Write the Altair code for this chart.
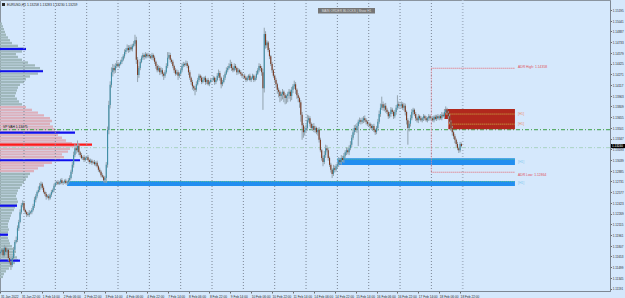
import json
import altair as alt
import pandas as pd

# ---------------- price axis / layout values ----------------
Y_MIN, Y_MAX = 1.11157, 1.15339
K_MIN, K_MAX = -18.38, 448.8          # bar index range visible (1 Feb 00:00 = 0)

price_ticks = [1.15195, 1.15041, 1.14887, 1.14733, 1.14579, 1.14425, 1.14271, 1.14117,
               1.13963, 1.13809, 1.13655, 1.13501, 1.13347, 1.13193, 1.13039, 1.12885,
               1.12731, 1.12577, 1.12423, 1.12269, 1.12115, 1.11961, 1.11807, 1.11653,
               1.11499, 1.11345, 1.11191]

xlab_k = [-18, -2, 14, 30, 46, 62, 78, 94, 110, 126, 142, 158, 174, 190, 206, 222, 238,
          254, 270, 286, 302, 318, 334]
xlab_text = ["31 Jan 2022", "31 Jan 22:00", "1 Feb 14:00", "2 Feb 06:00", "2 Feb 22:00",
             "3 Feb 14:00", "4 Feb 06:00", "4 Feb 22:00", "7 Feb 14:00", "8 Feb 06:00",
             "8 Feb 22:00", "9 Feb 14:00", "10 Feb 06:00", "10 Feb 22:00", "11 Feb 14:00",
             "14 Feb 06:00", "14 Feb 22:00", "15 Feb 14:00", "16 Feb 06:00", "16 Feb 22:00",
             "17 Feb 14:00", "18 Feb 06:00", "18 Feb 22:00"]

day_sep_k = [0, 24, 48, 72, 96, 120, 144, 168, 192, 216, 240, 264, 288, 312]
last_sep_k = [336]

# ---------------- hourly closes (EURUSD H1) ----------------
first_k = -18
first_open = 1.1170
c_jan31 = [1.1172, 1.1175, 1.1167, 1.1178, 1.1172, 1.1175, 1.1163, 1.1157, 1.1153, 1.1163, 1.1175, 1.1186, 1.1189, 1.1206, 1.1215, 1.1229, 1.1239, 1.1242]
c_feb01 = [1.1232, 1.1229, 1.1226, 1.1225, 1.1228, 1.1229, 1.1232, 1.1238, 1.1247, 1.1252, 1.1258, 1.1261, 1.1267, 1.1270, 1.1264, 1.1258, 1.1255, 1.1251, 1.1252, 1.1249, 1.1254, 1.1258, 1.1261, 1.1267]
c_feb02 = [1.1271, 1.1272, 1.1270, 1.1272, 1.1275, 1.1271, 1.1272, 1.1274, 1.1271, 1.1272, 1.1275, 1.1278, 1.1287, 1.1297, 1.1311, 1.1321, 1.1318, 1.1324, 1.1315, 1.1311, 1.1307, 1.1308, 1.1304, 1.1307]
c_feb03 = [1.1308, 1.1304, 1.1301, 1.1303, 1.1300, 1.1301, 1.1298, 1.1300, 1.1295, 1.1290, 1.1287, 1.1282, 1.1280, 1.1275, 1.1278, 1.1297, 1.1347, 1.1383, 1.1412, 1.1430, 1.1436, 1.1433, 1.1439, 1.1442]
c_feb04 = [1.1439, 1.1442, 1.1445, 1.1448, 1.1453, 1.1459, 1.1462, 1.1465, 1.1462, 1.1466, 1.1463, 1.1468, 1.1471, 1.1476, 1.1448, 1.1426, 1.1436, 1.1445, 1.1451, 1.1455, 1.1452, 1.1456, 1.1453, 1.1455]
c_feb07 = [1.1453, 1.1451, 1.1455, 1.1451, 1.1445, 1.1439, 1.1433, 1.1436, 1.1430, 1.1433, 1.1428, 1.1425, 1.1430, 1.1439, 1.1451, 1.1455, 1.1448, 1.1445, 1.1439, 1.1433, 1.1428, 1.1430, 1.1425, 1.1428]
c_feb08 = [1.1433, 1.1439, 1.1442, 1.1441, 1.1443, 1.1439, 1.1430, 1.1422, 1.1416, 1.1410, 1.1407, 1.1405, 1.1413, 1.1419, 1.1425, 1.1422, 1.1416, 1.1419, 1.1422, 1.1416, 1.1419, 1.1413, 1.1416, 1.1419]
c_feb09 = [1.1419, 1.1422, 1.1416, 1.1419, 1.1425, 1.1429, 1.1422, 1.1413, 1.1416, 1.1422, 1.1428, 1.1433, 1.1436, 1.1439, 1.1442, 1.1436, 1.1433, 1.1439, 1.1436, 1.1430, 1.1433, 1.1430, 1.1428, 1.1425]
c_feb10 = [1.1425, 1.1422, 1.1419, 1.1422, 1.1425, 1.1419, 1.1422, 1.1425, 1.1419, 1.1422, 1.1428, 1.1433, 1.1439, 1.1436, 1.1430, 1.1407, 1.1485, 1.1469, 1.1473, 1.1462, 1.1453, 1.1442, 1.1433, 1.1425]
c_feb11 = [1.1419, 1.1413, 1.1405, 1.1402, 1.1396, 1.1399, 1.1402, 1.1397, 1.1393, 1.1396, 1.1399, 1.1402, 1.1396, 1.1405, 1.1410, 1.1413, 1.1405, 1.1397, 1.1393, 1.1387, 1.1369, 1.1354, 1.1344, 1.1347]
c_feb14 = [1.1350, 1.1361, 1.1364, 1.1356, 1.1350, 1.1353, 1.1347, 1.1350, 1.1344, 1.1347, 1.1333, 1.1318, 1.1307, 1.1301, 1.1311, 1.1321, 1.1318, 1.1307, 1.1297, 1.1290, 1.1284, 1.1292, 1.1290, 1.1295]
c_feb15 = [1.1298, 1.1304, 1.1301, 1.1307, 1.1304, 1.1310, 1.1315, 1.1318, 1.1315, 1.1321, 1.1326, 1.1336, 1.1344, 1.1350, 1.1347, 1.1353, 1.1359, 1.1361, 1.1359, 1.1361, 1.1364, 1.1361, 1.1359, 1.1356]
c_feb16 = [1.1356, 1.1353, 1.1350, 1.1353, 1.1347, 1.1344, 1.1350, 1.1359, 1.1370, 1.1379, 1.1384, 1.1379, 1.1382, 1.1376, 1.1373, 1.1367, 1.1370, 1.1376, 1.1373, 1.1367, 1.1373, 1.1379, 1.1384, 1.1382]
c_feb17 = [1.1382, 1.1384, 1.1379, 1.1382, 1.1373, 1.1361, 1.1350, 1.1356, 1.1364, 1.1373, 1.1376, 1.1370, 1.1364, 1.1361, 1.1367, 1.1364, 1.1361, 1.1364, 1.1367, 1.1364, 1.1361, 1.1364, 1.1367, 1.1364]
c_feb18 = [1.1364, 1.1361, 1.1366, 1.1363, 1.1367, 1.1364, 1.1367, 1.1364, 1.1369, 1.1367, 1.1373, 1.1376, 1.1372, 1.1367, 1.1359, 1.1350, 1.1344, 1.1338, 1.1333, 1.1327, 1.1321, 1.1318, 1.1327, 1.1324]

# upper / lower wick length beyond the body, in pips
wu_jan31 = [3,2,3,4,2,3,2,3,2,3,4,3,5,4,3,4,3,4]
wd_jan31 = [3,4,3,2,4,3,4,3,7,3,2,3,2,3,4,2,3,3]
wu_feb01 = [3,2,2,3,4,2,3,3,4,3,2,5,4,3,2,3,2,3,2,3,2,3,2,3]
wd_feb01 = [2,3,4,2,3,2,3,2,3,4,3,2,3,4,3,2,3,4,2,3,2,3,2,3]
wu_feb02 = [2,2,3,2,2,3,2,2,3,2,3,4,3,4,5,6,4,8,3,2,3,2,3,2]
wd_feb02 = [2,3,2,2,3,2,3,2,2,3,2,3,2,3,4,3,5,3,4,3,2,3,3,2]
wu_feb03 = [2,3,2,3,2,2,3,2,3,2,3,2,3,2,3,4,5,6,5,7,6,5,4,5]
wd_feb03 = [3,2,3,2,3,2,2,3,2,3,2,3,2,3,4,7,4,6,5,4,6,5,4,3]
wu_feb04 = [3,2,3,4,3,4,3,5,4,3,4,3,4,8,5,4,3,4,3,3,2,3,2,3]
wd_feb04 = [2,3,2,3,2,3,3,2,4,3,2,3,2,3,6,10,4,3,2,3,4,2,3,2]
wu_feb07 = [2,3,3,2,3,2,3,4,3,4,3,2,3,4,8,4,3,2,3,2,3,4,3,2]
wd_feb07 = [3,2,3,4,3,4,3,2,4,3,4,6,3,2,3,2,4,3,3,4,3,2,6,3]
wu_feb08 = [3,4,3,2,4,3,2,3,2,3,2,3,4,3,3,2,3,4,2,3,2,3,2,3]
wd_feb08 = [2,3,2,3,2,3,4,3,4,5,4,8,3,2,3,4,3,2,3,4,3,2,3,2]
wu_feb09 = [2,3,2,3,4,5,3,2,3,4,3,4,3,4,6,3,2,4,3,2,3,2,3,2]
wd_feb09 = [3,2,4,3,2,3,4,6,3,2,3,2,3,2,3,4,3,2,3,4,3,2,3,3]
wu_feb10 = [2,3,2,3,2,3,2,3,2,3,4,3,4,3,3,5,9,4,3,2,3,2,3,2]
wd_feb10 = [3,2,3,2,3,2,3,2,3,2,3,2,3,4,5,31,6,5,4,3,4,3,4,3]
wu_feb11 = [2,3,2,3,2,3,4,2,3,2,3,4,3,4,3,5,3,2,3,2,3,4,3,5]
wd_feb11 = [4,5,6,8,9,7,8,10,9,8,9,7,8,6,5,4,6,5,6,8,10,21,8,5]
wu_feb14 = [5,8,4,3,2,3,4,3,2,3,4,3,2,3,6,5,4,3,2,3,2,5,4,3]
wd_feb14 = [3,4,3,4,3,4,3,4,3,5,4,3,4,6,3,4,3,4,3,4,6,3,4,3]
wu_feb15 = [3,4,3,4,3,4,3,4,3,4,5,4,5,4,5,4,3,4,3,4,3,4,3,2]
wd_feb15 = [3,4,3,4,3,4,3,4,3,4,3,4,3,4,3,4,29,3,4,3,4,3,4,3]
wu_feb16 = [3,2,3,2,3,2,3,4,5,6,11,4,3,4,3,2,3,4,3,2,3,4,13,4]
wd_feb16 = [3,4,3,4,3,4,3,4,3,4,3,4,5,4,3,4,3,4,3,4,3,4,3,4]
wu_feb17 = [3,4,3,4,3,2,3,4,5,4,3,2,3,2,3,2,3,2,3,2,3,2,3,2]
wd_feb17 = [3,4,3,4,5,6,24,5,4,3,4,3,4,3,4,3,2,3,4,3,2,3,4,3]
wu_feb18 = [2,3,2,3,2,3,2,3,4,3,4,5,3,2,3,2,3,2,3,2,3,2,3,2]
wd_feb18 = [3,2,3,2,3,2,3,2,3,2,3,2,3,4,3,4,5,4,5,4,3,4,3,2]

# ---------------- volume profile (left) ----------------
vp_price = [round(1.1500 - 0.0004 * i, 4) for i in range(92)]
vp_vol = [2, 3, 4, 5, 6, 8, 10, 12, 18, 24, 22, 16, 18, 22, 28, 35, 40, 43, 38, 30,
          26, 24, 20, 18, 17, 16, 15, 17, 19, 22, 26, 32, 38, 44, 50, 52, 50, 53, 55, 60,
          58, 62, 66, 72, 74, 70, 68, 62, 64, 60, 52, 44, 38, 34, 30, 28, 26, 24, 22, 20,
          18, 17, 16, 17, 18, 17, 15, 14, 12, 11, 10, 9, 8, 8, 9, 8, 7, 8, 9, 10,
          12, 14, 16, 15, 17, 18, 15, 12, 9, 6, 4, 3]
va_high, va_low = 1.1380, 1.1288
vp_level_price = [1.14635, 1.14315, 1.13432, 1.13036, 1.12383, 1.11966, 1.11593, 1.13260]
vp_level_len = [26, 43, 75, 80, 17, 8, 20, 92]
vp_level_kind = ["hvn", "hvn", "hvn", "hvn", "hvn", "hvn", "hvn", "poc"]

# ---------------- order blocks / levels ----------------
zone_start = [322, 325, 240, 33]
zone_end = [376, 376, 376, 376]
zone_top = [1.13773, 1.13629, 1.13064, 1.12738]
zone_bot = [1.13629, 1.13481, 1.12968, 1.12666]
zone_mid_line = [1.13700, 1.13555, 1.13050, 1.12730]
zone_kind = ["supply", "supply", "demand", "demand"]
zone_label = ["[H1]", "[H1]", "[H1]", "[H1]"]

adr_high, adr_low = 1.14358, 1.12864
adr_start, adr_end = 312, 376
green_level = 1.13475
pale_level = 1.13217
last_price = 1.13240

# ---------------- build tables ----------------
closes = (c_jan31 + c_feb01 + c_feb02 + c_feb03 + c_feb04 + c_feb07 + c_feb08 + c_feb09 +
          c_feb10 + c_feb11 + c_feb14 + c_feb15 + c_feb16 + c_feb17 + c_feb18)
wup = (wu_jan31 + wu_feb01 + wu_feb02 + wu_feb03 + wu_feb04 + wu_feb07 + wu_feb08 + wu_feb09 +
       wu_feb10 + wu_feb11 + wu_feb14 + wu_feb15 + wu_feb16 + wu_feb17 + wu_feb18)
wdn = (wd_jan31 + wd_feb01 + wd_feb02 + wd_feb03 + wd_feb04 + wd_feb07 + wd_feb08 + wd_feb09 +
       wd_feb10 + wd_feb11 + wd_feb14 + wd_feb15 + wd_feb16 + wd_feb17 + wd_feb18)

rows = []
prev = first_open
for i, (c, u, d) in enumerate(zip(closes, wup, wdn)):
    o = prev
    rows.append(dict(k=first_k + i, open=o, close=c,
                     high=max(o, c) + u * 0.0001, low=min(o, c) - d * 0.0001,
                     dir="up" if c >= o else "down"))
    prev = c
candles = pd.DataFrame(rows)

n = min(len(vp_price), len(vp_vol))
vp = pd.DataFrame({"price": vp_price[:n], "vol": vp_vol[:n]})
vp["x0"] = 0
vp["top"] = vp["price"] + 0.00017
vp["bot"] = vp["price"] - 0.00017
vp["va"] = ["in" if va_low <= p <= va_high else "out" for p in vp["price"]]

vp_lines = pd.DataFrame({"price": vp_level_price, "len": vp_level_len, "kind": vp_level_kind})
vp_lines["x0"] = 0

zones = pd.DataFrame({"k0": zone_start, "k1": zone_end, "top": zone_top, "bot": zone_bot,
                      "mid": zone_mid_line, "kind": zone_kind, "label": zone_label})
zones["lab_y"] = (zones["top"] + zones["bot"]) / 2
zones["lab_k"] = [e + 2.3 for e in zone_end]

seps = pd.DataFrame({"k": day_sep_k + last_sep_k,
                     "kind": ["day"] * len(day_sep_k) + ["last"] * len(last_sep_k)})

adr = pd.DataFrame({"k0": [adr_start, adr_start], "k1": [adr_end, adr_end],
                    "price": [adr_high, adr_low],
                    "text": [f"ADR High: {adr_high:.5f}", f"ADR Low: {adr_low:.5f}"]})
adr["lab_k"] = adr_end + 2.3
adr["lab_y"] = [adr_high + 0.00025, adr_low - 0.0004]
adr_v = pd.DataFrame({"k": [adr_start], "p1": [adr_high], "p2": [adr_low]})

hlines = pd.DataFrame({"price": [green_level, pale_level], "kind": ["g", "p"]})

# ---------------- scales / axes ----------------
FONT = "Liberation Sans"
kscale = alt.Scale(domain=[K_MIN, K_MAX], nice=False, zero=False)
vscale = alt.Scale(domain=[0, 610], nice=False, zero=False)
yscale = alt.Scale(domain=[Y_MIN, Y_MAX], nice=False, zero=False)
yaxis = alt.Axis(orient="right", values=price_ticks, format=".5f", labelFontSize=3.0,
                 labelFont=FONT, labelColor="#2a2a2a", tickSize=1.5, tickColor="#6a6a6a",
                 domain=True, domainColor="#7d8793", grid=False, labelPadding=0.8,
                 labelFlush=False, labelOverlap=False, title=None)
label_expr = json.dumps(xlab_text) + "[indexof(" + json.dumps(xlab_k) + ", datum.value)]"
xaxis = alt.Axis(orient="bottom", values=xlab_k, labelExpr=label_expr, labelAlign="left",
                 labelBaseline="top", labelFontSize=3.2, labelFont=FONT, labelColor="#2a2a2a",
                 labelPadding=1, tickSize=2, tickColor="#6a6a6a", domain=True,
                 domainColor="#7d8793", grid=False, labelOverlap=False, labelFlush=False,
                 title=None)


def Yq(field):
    return alt.Y(field, type="quantitative", scale=yscale, axis=yaxis)


# volume profile
vp_layer = alt.Chart(vp).mark_rect(clip=True).encode(
    x=alt.X("x0:Q", scale=vscale, axis=None), x2="vol:Q",
    y=Yq("top"), y2="bot:Q",
    color=alt.Color("va:N", scale=alt.Scale(domain=["in", "out"], range=["#dcb0bc", "#9fb7bb"]),
                    legend=None))

vp_line_layer = alt.Chart(vp_lines).mark_rule(strokeWidth=2.2, clip=True).encode(
    x=alt.X("x0:Q", scale=vscale, axis=None), x2="len:Q", y=Yq("price"),
    color=alt.Color("kind:N", scale=alt.Scale(domain=["hvn", "poc"], range=["#1010ee", "#ff1a1a"]),
                    legend=None))

sep_layer = alt.Chart(seps).mark_rule(strokeDash=[1, 2], strokeWidth=1, clip=True).encode(
    x=alt.X("k:Q", scale=kscale, axis=None),
    color=alt.Color("kind:N", scale=alt.Scale(domain=["day", "last"], range=["#7a8594", "#a9b9cc"]),
                    legend=None),
    size=alt.Size("kind:N", scale=alt.Scale(domain=["day", "last"], range=[1, 1.8]), legend=None))

hline_layer = alt.Chart(hlines).mark_rule(strokeDash=[4, 2, 1, 2], strokeWidth=1, clip=True).encode(
    y=Yq("price"),
    color=alt.Color("kind:N", scale=alt.Scale(domain=["g", "p"], range=["#3c9e46", "#a9d2c2"]),
                    legend=None))

zone_layer = alt.Chart(zones).mark_rect(clip=True).encode(
    x=alt.X("k0:Q", scale=kscale, axis=None), x2="k1:Q",
    y=Yq("top"), y2="bot:Q",
    color=alt.Color("kind:N", scale=alt.Scale(domain=["supply", "demand"], range=["#b1281d", "#218ef0"]),
                    legend=None))

zone_mid_layer = alt.Chart(zones).mark_rule(strokeDash=[1, 1], strokeWidth=1, clip=True).encode(
    x=alt.X("k0:Q", scale=kscale, axis=None), x2="k1:Q", y=Yq("mid"),
    color=alt.Color("kind:N", scale=alt.Scale(domain=["supply", "demand"], range=["#cdbd4a", "#5cc08f"]),
                    legend=None))

zone_text = alt.Chart(zones).mark_text(align="left", baseline="middle", fontSize=3.4, font=FONT).encode(
    x=alt.X("lab_k:Q", scale=kscale, axis=None), y=Yq("lab_y"), text="label:N",
    color=alt.Color("kind:N", scale=alt.Scale(domain=["supply", "demand"], range=["#ec8e6e", "#84c8f0"]),
                    legend=None))

adr_layer = alt.Chart(adr).mark_rule(strokeDash=[1, 1], strokeWidth=1, color="#e5636b", clip=True).encode(
    x=alt.X("k0:Q", scale=kscale, axis=None), x2="k1:Q", y=Yq("price"))

adr_v_layer = alt.Chart(adr_v).mark_rule(strokeDash=[1, 1], strokeWidth=1, color="#e58a96", clip=True).encode(
    x=alt.X("k:Q", scale=kscale, axis=None), y=Yq("p1"), y2="p2:Q")

adr_text = alt.Chart(adr).mark_text(align="left", baseline="middle", fontSize=3.4, font=FONT,
                                    color="#e0505a").encode(
    x=alt.X("lab_k:Q", scale=kscale, axis=None), y=Yq("lab_y"), text="text:N")

wick_layer = alt.Chart(candles).mark_rule(strokeWidth=1, color="#93a3ae", clip=True).encode(
    x=alt.X("k:Q", scale=kscale, axis=xaxis), y=Yq("low"), y2="high:Q")

body_layer = alt.Chart(candles).mark_rule(strokeWidth=1.1, clip=True).encode(
    x=alt.X("k:Q", scale=kscale, axis=None), y=Yq("open"), y2="close:Q",
    color=alt.Color("dir:N", scale=alt.Scale(domain=["up", "down"], range=["#3f8ea6", "#7b3a20"]),
                    legend=None))

# fixed annotations
title_df = pd.DataFrame({"t": ["EURUSD,H1  1.13258 1.13283 1.13230 1.13259"]})
title_layer = alt.Chart(title_df).mark_text(align="left", baseline="middle", fontSize=3.3,
                                            font=FONT, color="#1e1e1e").encode(
    x=alt.value(7), y=alt.value(4.5), text="t:N")
icon_layer = alt.Chart(title_df).mark_rect(color="#2a2a2a").encode(
    x=alt.value(2), x2=alt.value(5), y=alt.value(3), y2=alt.value(6))

box_df = pd.DataFrame({"t": ["MAIN ORDER BLOCKS | Show H1"]})
box_layer = alt.Chart(box_df).mark_rect(color="#767676").encode(
    x=alt.value(318), x2=alt.value(375), y=alt.value(8), y2=alt.value(13.5))
box_text = alt.Chart(box_df).mark_text(align="center", baseline="middle", fontSize=3.2,
                                       font=FONT, color="#dedede").encode(
    x=alt.value(346.5), y=alt.value(10.9), text="t:N")

vp_lab_df = pd.DataFrame({"t": ["VP VAH 1.13475"]})
vp_lab = alt.Chart(vp_lab_df).mark_text(align="left", baseline="middle", fontSize=3.3,
                                        font=FONT, color="#111111").encode(
    x=alt.value(3), y=alt.value(127), text="t:N")

cur_df = pd.DataFrame({"p": [last_price], "top": [last_price + 0.0003], "bot": [last_price - 0.0003],
                       "t": [f"{last_price:.5f}"]})
cur_box = alt.Chart(cur_df).mark_rect(color="#000000", clip=False).encode(
    x=alt.value(611), x2=alt.value(625), y=Yq("top"), y2="bot:Q")
cur_text = alt.Chart(cur_df).mark_text(align="left", baseline="middle", fontSize=3.0, font=FONT,
                                       color="#ffffff", clip=False).encode(
    x=alt.value(612), y=Yq("p"), text="t:N")

chart = alt.layer(
    vp_layer, vp_line_layer, sep_layer, hline_layer, zone_layer, zone_mid_layer,
    adr_layer, adr_v_layer, wick_layer, body_layer, zone_text, adr_text,
    title_layer, icon_layer, box_layer, box_text, vp_lab, cur_box, cur_text
).resolve_scale(
    x="independent", color="independent", size="independent"
).properties(
    width=610, height=291, autosize="none",
    padding={"left": 0, "top": 0, "right": 15, "bottom": 7},
    background="#d5e8fc"
).configure_view(
    stroke="#8a949f", strokeWidth=1, fill="#d5e8fc"
)

chart.save("out.html", embed_options={"renderer": "svg", "actions": False})
